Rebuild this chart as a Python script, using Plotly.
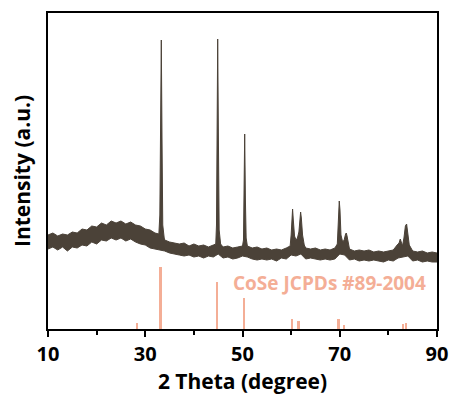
import plotly.graph_objects as go

# XRD pattern: upper and lower edges of the measured (noisy) trace, 2θ in degrees, intensity in a.u.
upper_2theta = [10, 11, 12, 13, 14, 15, 16, 17, 18, 19, 20, 21, 22, 23, 24, 25, 26, 27, 28, 29, 30, 31, 32, 32.8,
                33.0, 33.15, 33.3, 33.45, 33.6, 33.9, 34, 35, 36, 37, 38, 39, 40, 41, 42, 43, 44, 44.5,
                44.65, 44.8, 44.9, 45.05, 45.2, 45.5, 46, 47, 48, 49, 50, 50.2, 50.3, 50.45, 50.6, 50.75,
                51, 52, 53, 54, 55, 56, 57, 58, 59, 59.8, 60.0, 60.15, 60.3, 60.45, 60.7, 61.0, 61.3,
                61.6, 61.8, 61.95, 62.1, 62.35, 62.7, 63, 64, 65, 66, 67, 68, 69, 69.5, 69.65, 69.8, 69.9,
                70.05, 70.25, 70.6, 70.9, 71.2, 71.35, 71.5, 71.8, 72, 73, 74, 75, 76, 77, 78, 79, 80, 81,
                81.8, 82.2, 82.45, 82.7, 82.9, 83.2, 83.5, 83.75, 84.0, 84.3, 85, 86, 87, 88, 89, 90]
upper_intensity = [94, 96, 93, 95, 94, 97, 96, 100, 99, 103, 102, 106, 104, 108, 106, 108, 105, 107, 104, 103, 100, 99, 96, 95,
                   114, 209, 289, 189, 104, 91, 89, 87, 86, 85, 86, 83, 85, 83, 84, 82, 84, 85,
                   104, 199, 290, 189, 99, 85, 82, 83, 81, 82, 83, 89, 139, 195, 129, 91,
                   83, 81, 82, 80, 81, 79, 80, 79, 81, 83, 94, 114, 120, 109, 93, 89, 91,
                   97, 114, 117, 111, 94, 84, 81, 80, 81, 79, 80, 79, 81, 85, 104, 125, 128,
                   119, 94, 87, 89, 95, 96, 93, 83, 80, 78, 79, 78, 79, 77, 78, 77, 78, 79,
                   84, 86, 90, 87, 83, 91, 103, 105, 97, 84, 78, 77, 78, 76, 77, 76]

lower_2theta = [10, 11, 12, 13, 14, 15, 16, 17, 18, 19, 20, 21, 22, 23, 24, 25, 26, 27, 28, 29, 30,
                31, 32, 33, 34, 35, 36, 37, 38, 39, 40, 41, 42, 43, 44, 45, 46, 47, 48, 49, 50,
                51, 52, 53, 54, 55, 56, 57, 58, 59, 60, 61, 62, 63, 64, 65, 66, 67, 68, 69, 70,
                71, 72, 73, 74, 75, 76, 77, 78, 79, 80, 81, 82, 83, 84, 85, 86, 87, 88, 89, 90]
lower_intensity = [80, 82, 79, 82, 78, 82, 81, 84, 83, 87, 85, 89, 88, 91, 89, 91, 88, 90, 87, 85, 84,
                   81, 80, 79, 78, 76, 75, 74, 73, 74, 72, 73, 71, 73, 72, 75, 71, 72, 70, 71, 73,
                   72, 70, 69, 70, 69, 70, 68, 71, 70, 74, 73, 75, 70, 71, 70, 69, 70, 69, 70, 75,
                   74, 69, 70, 68, 69, 68, 69, 68, 67, 69, 68, 71, 72, 73, 68, 69, 67, 68, 67, 67]

# Reference pattern CoSe JCPDS #89-2004
ref_2theta = [28.4, 33.2, 44.8, 50.4, 60.2, 61.6, 69.8, 70.9, 83.1, 83.7]
ref_intensity = [6, 62, 47, 31, 10, 8, 10, 4, 5, 6]

x_tickvals = [10, 30, 50, 70, 90]
x_ticktext = ["10", "30", "50", "70", "90"]

trace_color = "#4B4238"
ref_color = "#F4AE96"
font_family = "'Open Sans', Lato, sans-serif"

fig = go.Figure()

fig.add_trace(go.Bar(
    x=ref_2theta, y=ref_intensity, width=0.4,
    marker=dict(color=ref_color, line=dict(width=0)),
    showlegend=False, hoverinfo="skip",
))

fig.add_trace(go.Scatter(
    x=upper_2theta + lower_2theta[::-1],
    y=upper_intensity + lower_intensity[::-1],
    mode="lines", fill="toself", fillcolor=trace_color,
    line=dict(color=trace_color, width=1),
    showlegend=False,
))

fig.add_annotation(
    x=67.8, y=46, xref="x", yref="y", text="<b>CoSe JCPDs #89-2004</b>",
    showarrow=False, font=dict(family=font_family, size=19, color=ref_color),
)

fig.update_layout(
    width=456, height=396,
    margin=dict(l=48, r=19, t=13, b=67, autoexpand=False),
    paper_bgcolor="white", plot_bgcolor="white",
    bargap=0,
    font=dict(family=font_family, color="black"),
    xaxis=dict(
        range=[10, 90], tickvals=x_tickvals, ticktext=x_ticktext,
        automargin=False,
        ticks="outside", ticklen=6, tickwidth=2, tickcolor="black",
        minor=dict(dtick=10, tick0=10, ticks="outside", ticklen=4, tickwidth=2, tickcolor="black"),
        showline=True, linewidth=2, linecolor="black", mirror=True,
        showgrid=False, zeroline=False,
        tickfont=dict(family=font_family, size=20, color="black", weight="bold"),
        title=dict(text="<b>2 Theta (degree)</b>", font=dict(family=font_family, size=21, color="black"), standoff=3),
    ),
    yaxis=dict(
        range=[0, 316], showticklabels=False, ticks="",
        automargin=False,
        showline=True, linewidth=2, linecolor="black", mirror=True,
        showgrid=False, zeroline=False,
        title=dict(text="<b>Intensity (a.u.)</b>", font=dict(family=font_family, size=21, color="black"), standoff=10),
    ),
)

fig.write_html("out.html", config={"displayModeBar": False},
               post_script="document.body.style.margin='0';")
